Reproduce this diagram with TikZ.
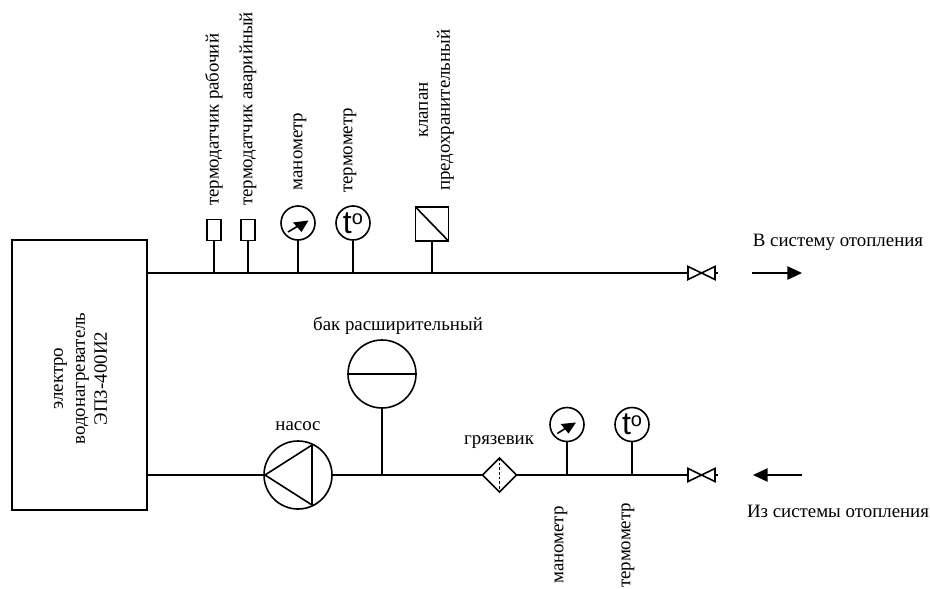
\documentclass[tikz,border=0pt]{standalone}
\usepackage{fontspec}
\setmainfont{Liberation Serif}
\newfontfamily\gaugefont{Liberation Sans}
\usetikzlibrary{arrows.meta}
\newcommand{\tempsym}{\gaugefont\fontsize{24pt}{24pt}\selectfont t\raisebox{0.5ex}{\fontsize{15pt}{15pt}\selectfont o}}
\tikzset{
  line/.style={draw=black,line width=1.2pt},
  lbl/.style={inner sep=0pt,font=\fontsize{14.15pt}{16.5pt}\selectfont,align=center},
  vlbl/.style={lbl,rotate=90},
  gauge/.style={circle,line,minimum size=25.5pt,inner sep=0pt,outer sep=0pt},
  sensor/.style={rectangle,line,minimum width=10.5pt,minimum height=15.75pt,inner sep=0pt,outer sep=0pt},
  flow/.style={line,-{Triangle[length=11pt,width=10pt]}}
}
\begin{document}
\begin{tikzpicture}[x=0.75pt,y=-0.75pt]
\useasboundingbox (0,0) rectangle (930,588);
% heater
\node[rectangle,line,minimum width=101.25pt,minimum height=202.5pt,inner sep=0pt,outer sep=0pt] (heater) at (79.5,375) {};
\node[vlbl] (heatertext) at (80.5,378.5) {электро\\водонагреватель\\ЭПЗ-400И2};
% pipe junctions
\coordinate (topL) at (147,273);
\coordinate (botL) at (147,475);
\foreach \n/\x in {a/214,b/248,c/298,d/353,e/432} {\coordinate (j\n) at (\x,273);}
\foreach \n/\x in {f/382,g/567,h/632} {\coordinate (j\n) at (\x,475);}
% top pipe
\node[sensor] (s1) at (214,230) {};
\node[sensor] (s2) at (248,230) {};
\node[gauge] (m1) at (298,223) {};
\node[gauge] (t1) at (353,223) {\tempsym};
\node[rectangle,line,minimum width=24.75pt,minimum height=25.5pt,inner sep=0pt,outer sep=0pt] (k) at (432,224) {};
\draw[line] (k.north west) -- (k.south east);
\coordinate (v1L) at (688,273);
\coordinate (v1R) at (715,273);
\draw[line] (topL) -- (v1L);
\draw[line] (v1L) -- ++(0,-6.5) -- ++(27,13) -- ++(0,-13) -- ++(-27,13) -- cycle;
\draw[line] (v1R) -- ++(3,0);
\foreach \n/\t in {a/s1,b/s2,c/m1,d/t1,e/k} {\draw[line] (\t.south) -- (j\n);}
% gauge needle
\draw[line] (288,232) -- (298,226);
\fill (308.5,220.5) -- (293,222.5) -- (301.5,232) -- cycle;
% bottom pipe
\node[circle,line,minimum size=51pt,inner sep=0pt,outer sep=0pt] (pump) at (298,475) {};
\coordinate (pA) at (265,475);
\coordinate (pB) at (312,445);
\coordinate (pC) at (312,505);
\draw[line] (pA) -- (pB) -- (pC) -- cycle;
\node[circle,line,minimum size=51pt,inner sep=0pt,outer sep=0pt] (tank) at (382,374) {};
\draw[line] (tank.west) -- (tank.east);
\node[rectangle,rotate=45,line,minimum size=18pt,inner sep=0pt,outer sep=0pt] (dirt) at (499.5,475) {};
\draw[draw=black,line width=0.7pt,dash pattern=on 2pt off 1.5pt] (dirt.north east) -- (dirt.south west);
\node[gauge] (m2) at (567,424.5) {};
\node[gauge] (t2) at (632,424.5) {\tempsym};
\draw[line] (m2.south) -- (jg);
\draw[line] (t2.south) -- (jh);
\draw[line] (557.3,433.5) -- (566,428);
\fill (576,422.5) -- (560.7,424) -- (568.5,433.5) -- cycle;
\coordinate (v2L) at (688,475);
\coordinate (v2R) at (715,475);
\draw[line] (botL) -- (pump.west);
\draw[line] (pump.east) -- (dirt.north west);
\draw[line] (dirt.south east) -- (v2L);
\draw[line] (v2L) -- ++(0,-6.5) -- ++(27,13) -- ++(0,-13) -- ++(-27,13) -- cycle;
\draw[line] (v2R) -- ++(3,0);
\draw[line] (tank.south) -- (jf);
% flow arrows
\coordinate (a1s) at (752,273); \coordinate (a1e) at (802,273);
\coordinate (a2s) at (802,475); \coordinate (a2e) at (753,475);
\draw[flow] (a1s) -- (a1e);
\draw[flow] (a2s) -- (a2e);
% labels
\node[vlbl,anchor=west] (l1) at (214,206) {термодатчик рабочий};
\node[vlbl,anchor=west] (l2) at (248,206) {термодатчик аварийный};
\node[vlbl,anchor=west] (l3) at (300,190.5) {манометр};
\node[vlbl,anchor=west] (l4) at (350,193) {термометр};
\node[vlbl,anchor=west] (l5) at (436.5,191) {клапан\\предохранительный};
\node[lbl] (l6) at (838,242) {В систему отопления};
\node[lbl] (l7) at (838,511) {Из системы отопления};
\node[lbl] (l8) at (398,326) {бак расширительный};
\node[lbl] (l9) at (298,426) {насос};
\node[lbl] (l10) at (499,442) {грязевик};
\node[vlbl,anchor=west] (l11) at (561,584) {манометр};
\node[vlbl,anchor=west] (l12) at (628,588) {термометр};
\end{tikzpicture}
\end{document}
